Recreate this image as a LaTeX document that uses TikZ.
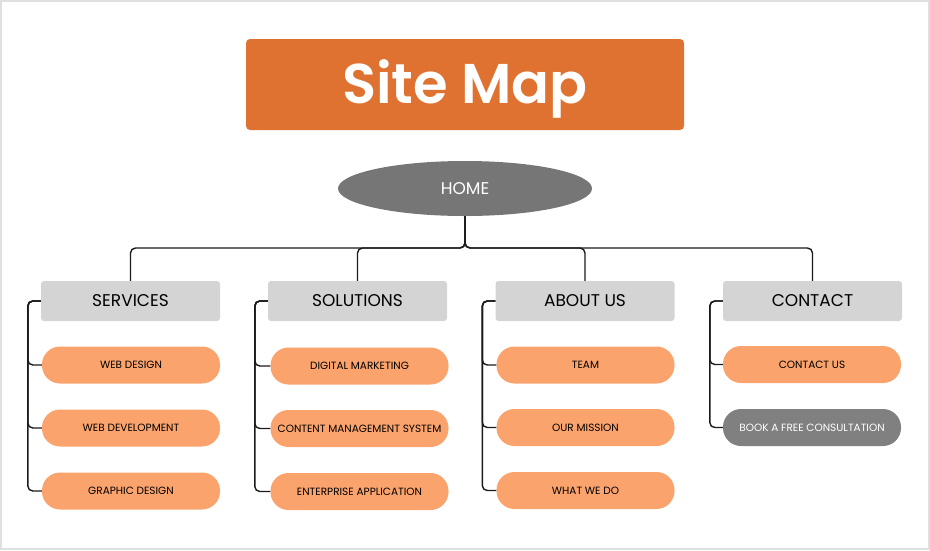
\documentclass[tikz,border=0pt]{standalone}
\usepackage{fontspec}
\setmainfont{Poppins}[BoldFont={Poppins SemiBold}]
\usetikzlibrary{shapes.geometric}

\definecolor{titleorange}{HTML}{E07231}
\definecolor{pillorange}{HTML}{FBA36D}
\definecolor{headgray}{HTML}{D4D4D4}
\definecolor{homegray}{HTML}{767676}
\definecolor{bookgray}{HTML}{808080}
\definecolor{framegray}{HTML}{E0E0E0}
\definecolor{linkblack}{HTML}{1A1A1A}

\begin{document}
\begin{tikzpicture}[x=1pt,y=-1pt,
	header/.style={fill=headgray, rounded corners=3pt, minimum width=179pt, minimum height=40pt, inner sep=0pt, font=\fontsize{17}{20}\selectfont},
	page/.style={fill=pillorange, rounded corners=18pt, minimum width=178pt, minimum height=37pt, inner sep=0pt, font=\fontsize{10.5}{12}\selectfont},
	link/.style={draw=linkblack, line width=1.4pt, rounded corners=5pt}]
	\useasboundingbox (0,0) rectangle (930,550);
	\draw[framegray, line width=2.5pt] (1,1) rectangle (929,549);
	
	\node[fill=titleorange, rounded corners=4pt, minimum width=438pt, minimum height=91pt, text height=42pt, text depth=5pt, text=white, font=\fontsize{56}{60}\bfseries] (sitemap) at (465,84.5) {Site Map};
	\node[shape=ellipse, fill=homegray, minimum width=254pt, minimum height=55pt, inner sep=0pt, text=white, font=\fontsize{17}{20}\selectfont] (home) at (465,188.5) {HOME};
	\coordinate (bus) at (465,248);
	
	\node[header] (services) at (130.5,301) {SERVICES};
	\node[header] (solutions) at (357.5,301) {SOLUTIONS};
	\node[header] (about) at (585,301) {ABOUT US};
	\node[header] (contact) at (812.5,301) {CONTACT};
	
	\node[page] (webdesign) at (131,365) {WEB DESIGN};
	\node[page] (webdev) at (131,428) {WEB DEVELOPMENT};
	\node[page] (graphic) at (131,491) {GRAPHIC DESIGN};
	\node[page] (marketing) at (359.5,366) {DIGITAL MARKETING};
	\node[page] (cms) at (359.5,428.5) {CONTENT MANAGEMENT SYSTEM};
	\node[page] (enterprise) at (359.5,491.5) {ENTERPRISE APPLICATION};
	\node[page] (team) at (585.5,365) {TEAM};
	\node[page] (mission) at (585.5,427.5) {OUR MISSION};
	\node[page] (whatwedo) at (585.5,490.5) {WHAT WE DO};
	\node[page] (contactus) at (812,364.5) {CONTACT US};
	\node[page, fill=bookgray, text=white] (book) at (812,427.5) {BOOK A FREE CONSULTATION};
	
	% home to the four sections
	\draw[link] (home.south) -- (bus) -| (services.north);
	\draw[link] (home.south) -- (bus) -| (solutions.north);
	\draw[link] (home.south) -- (bus) -| (about.north);
	\draw[link] (home.south) -- (bus) -| (contact.north);
	
	% sections to their pages
	\draw[link] (services.west) -- ++(-13,0) |- (webdesign.west);
	\draw[link] (services.west) -- ++(-13,0) |- (webdev.west);
	\draw[link] (services.west) -- ++(-13,0) |- (graphic.west);
	\draw[link] (solutions.west) -- ++(-13,0) |- (marketing.west);
	\draw[link] (solutions.west) -- ++(-13,0) |- (cms.west);
	\draw[link] (solutions.west) -- ++(-13,0) |- (enterprise.west);
	\draw[link] (about.west) -- ++(-13,0) |- (team.west);
	\draw[link] (about.west) -- ++(-13,0) |- (mission.west);
	\draw[link] (about.west) -- ++(-13,0) |- (whatwedo.west);
	\draw[link] (contact.west) -- ++(-13,0) |- (contactus.west);
	\draw[link] (contact.west) -- ++(-13,0) |- (book.west);
\end{tikzpicture}
\end{document}
